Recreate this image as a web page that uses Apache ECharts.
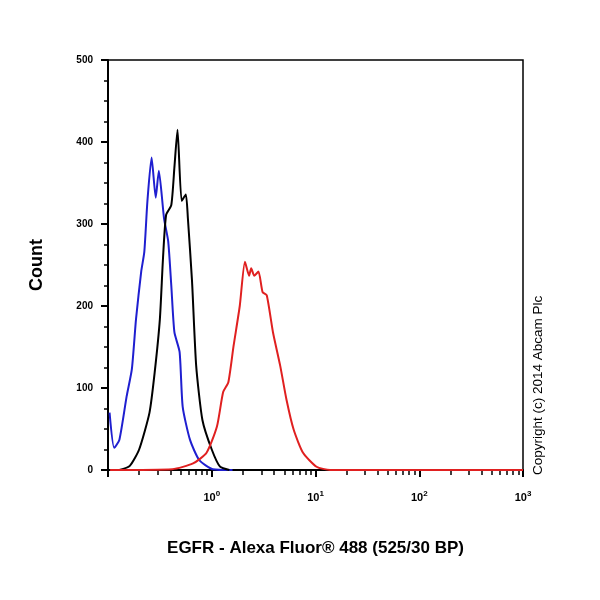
<!DOCTYPE html>
<html><head><meta charset="utf-8">
<script src="https://cdn.jsdelivr.net/npm/echarts@6/dist/echarts.min.js"></script>
<style>html,body{margin:0;padding:0;background:#fff}#c{width:600px;height:600px}</style>
</head><body><div id="c"></div>
<script>
// x values given as log10 exponent of fluorescence intensity
const blueLog = [-0.985,-0.94,-0.89,-0.82,-0.77,-0.73,-0.68,-0.65,-0.62,-0.58,-0.54,-0.51,-0.46,-0.42,-0.39,-0.36,-0.31,-0.28,-0.21,-0.12,0.01,0.2];
const blueCnt = [70,27,37,90,123,184,242,266,328,381,332,365,307,279,225,168,144,77,37,12,1,0];
const blackLog = [-0.89,-0.79,-0.70,-0.6,-0.55,-0.5,-0.47,-0.44,-0.39,-0.36,-0.33,-0.29,-0.25,-0.23,-0.19,-0.15,-0.09,0,0.08,0.17];
const blackCnt = [0,5,25,70,119,184,258,311,323,369,415,328,336,307,230,127,61,25,4,0];
const redLog = [-0.98,-0.38,-0.18,-0.05,0.05,0.11,0.16,0.21,0.27,0.32,0.36,0.38,0.41,0.45,0.49,0.53,0.59,0.66,0.72,0.79,0.88,1.01,1.14,3];
const redCnt = [0,1,8,21,53,95,107,151,200,254,237,246,237,242,217,213,168,127,86,49,21,4,0,0];
const majorTicks = [-1,0,1,2,3];
const xLabelExp = [0,1,2,3];
const yTicks = [0,100,200,300,400,500];

const minor = [];
for (let n=-1;n<3;n++) for (let k=2;k<10;k++) minor.push(n+Math.log10(k));
const pair=(a,b)=>a.map((v,i)=>[v,b[i]]);
const chart = echarts.init(document.getElementById('c'));
const baseX = {type:'value',min:-1,max:3,gridIndex:0,position:'bottom',splitLine:{show:false},
  axisLine:{show:true,onZero:false,lineStyle:{color:'#000',width:2}}};
chart.setOption({
  animation:false,
  grid:{left:108,right:77,top:60,bottom:130,show:true,borderColor:'#000',borderWidth:1.5},
  xAxis:[
    Object.assign({},baseX,{
      axisTick:{show:true,length:7,lineStyle:{width:2,color:'#000'},customValues:majorTicks},
      axisLabel:{show:true,customValues:xLabelExp,margin:20,formatter:v=>'{b|10}{s|'+Math.round(v)+'}',
        rich:{b:{fontSize:11,fontWeight:'bold',color:'#000',fontFamily:'Arial'},s:{fontSize:8,fontWeight:'bold',color:'#000',verticalAlign:'top',padding:[0,0,8,0],fontFamily:'Arial'}}},
      name:'EGFR - Alexa Fluor® 488 (525/30 BP)',nameLocation:'middle',nameGap:70,
      nameTextStyle:{fontSize:17,fontWeight:'bold',color:'#000',fontFamily:'Arial'}}),
    Object.assign({},baseX,{
      axisLine:{show:false,onZero:false},
      axisTick:{show:true,length:5,lineStyle:{width:1.5,color:'#000'},customValues:minor},
      axisLabel:{show:false}})
  ],
  yAxis:{type:'value',min:0,max:500,interval:100,position:'left',splitLine:{show:false},
    axisLine:{show:true,onZero:false,lineStyle:{color:'#000',width:2}},
    axisTick:{show:true,length:7,lineStyle:{width:2}},
    minorTick:{show:true,splitNumber:4,length:4,lineStyle:{color:'#000',width:1.5}},
    axisLabel:{color:'#000',fontSize:10,fontWeight:'bold',fontFamily:'Arial',margin:15},
    name:'Count',nameLocation:'middle',nameGap:62,
    nameTextStyle:{fontSize:18,fontWeight:'bold',color:'#000',fontFamily:'Arial'}},
  graphic:[{type:'text',x:531,y:475,rotation:Math.PI/2,
    style:{text:'Copyright (c) 2014 Abcam Plc',fontSize:13.5,fill:'#000',fontFamily:'Arial',align:'left',verticalAlign:'top'}}],
  series:[
    {type:'line',data:pair(blueLog,blueCnt),symbol:'none',smooth:0.2,lineStyle:{color:'#1f1fd0',width:2},z:3},
    {type:'line',data:pair(blackLog,blackCnt),symbol:'none',smooth:0.2,lineStyle:{color:'#000',width:2},z:4},
    {type:'line',data:pair(redLog,redCnt),symbol:'none',smooth:0.2,lineStyle:{color:'#e02020',width:2},z:5}
  ]
});
</script></body></html>
